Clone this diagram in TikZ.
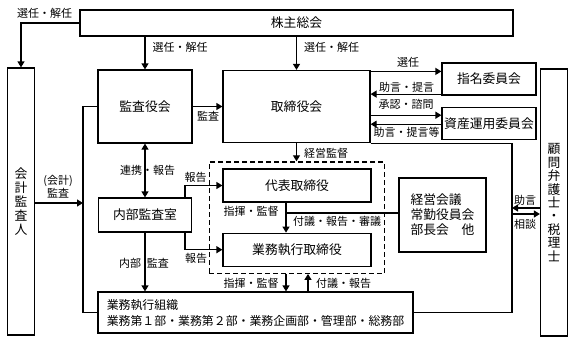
\documentclass[tikz,border=0pt]{standalone}
\usepackage{fontspec}
\setmainfont{Noto Sans CJK JP}
\usetikzlibrary{
    positioning,
    arrows.meta,
    fit
}

\begin{document}
\begin{tikzpicture}[
    x=1pt, y=-1pt,
    font=\fontsize{12.8}{14}\selectfont,
    box/.style={
        rectangle, draw=black, line width=1.2pt,
        align=center, inner sep=2pt
    },
    vbox/.style={
        box, minimum width=27pt, minimum height=267pt,
        font=\fontsize{12.8}{14}\selectfont
    },
    lbl/.style={
        rectangle, draw=none, fill=none, align=center, inner sep=0pt,
        font=\fontsize{11}{13}\selectfont
    },
    groupbox/.style={
        rectangle, draw=black, line width=1.2pt, dash pattern=on 5pt off 3pt,
        inner xsep=13pt, inner ysep=6.5pt
    },
    conn/.style={line width=1.2pt},
    arr/.style={-{Triangle[length=6pt,width=7pt]}, line width=1.2pt},
    dblarr/.style={{Triangle[length=6pt,width=7pt]}-{Triangle[length=6pt,width=7pt]}, line width=1.2pt}
]
\useasboundingbox (0,0) rectangle (575,343);

% Shareholders
\node[box, minimum width=433pt, minimum height=26pt] (kabunushi) at (296.5,23) {株主総会};

% Tall boxes at the sides
\node[vbox] (kaikei) at (21,201.5) {会\\計\\監\\査\\人};
\node[vbox, font=\fontsize{12.8}{13.4}\selectfont] (komon) at (554,202.5)
    {顧\\問\\弁\\護\\士\\・\\税\\理\\士};

% Boards
\node[box, minimum width=94pt, minimum height=73pt] (kansayaku) at (145,106.5) {監査役会};
\node[box, minimum width=147pt, minimum height=72pt] (torishimari) at (296.5,106.5) {取締役会};

% Committees
\node[box, minimum width=94pt, minimum height=32pt] (shimei) at (489,79) {指名委員会};
\node[box, minimum width=94pt, minimum height=32pt, below=11pt of shimei] (shisan) {資産運用委員会};

% Internal audit
\node[box, minimum width=93pt, minimum height=34pt] (naibu) at (145,215) {内部監査室};

% Executives
\node[box, minimum width=148pt, minimum height=33pt] (daihyo) at (297,185.5) {代表取締役};
\node[box, minimum width=148pt, minimum height=33pt, below=30pt of daihyo] (gyomu) {業務執行取締役};
\node[groupbox, fit=(daihyo)(gyomu)] (exec_box) {};

% Meetings
\node[box, minimum width=87pt, minimum height=74pt, align=left,
      font=\fontsize{12.8}{15}\selectfont] (keiei) at (442.5,215)
    {経営会議\\常勤役員会\\部長会　他};

% Operating organisation
\node[box, minimum width=315pt, minimum height=41pt, align=left,
      font=\fontsize{11.9}{16}\selectfont] (soshiki) at (255.5,312.5)
    {業務執行組織\\業務第１部・業務第２部・業務企画部・管理部・総務部};

% Helper points
\coordinate (bus_l) at (83,312.5);
\coordinate (bus_r) at (512,312.5);
\coordinate (shiki) at ([xshift=-11pt]daihyo.south);
\coordinate (fugi) at ([xshift=11pt]gyomu.south);

% Arrows from the top
\draw[arr] (kabunushi.west) -| (kaikei.north);
\draw[arr] (kabunushi.south -| kansayaku) -- (kansayaku.north);
\draw[arr] (kabunushi.south -| torishimari) -- (torishimari.north);
\draw[arr] (kansayaku.east) -- (torishimari.west);

% Committees
\draw[arr] ([yshift=-1.5pt]torishimari.north east) -- ([yshift=-1.5pt]torishimari.north east -| shimei.west);
\draw[arr] ([yshift=1.5pt]shimei.south west) -- ([yshift=1.5pt]shimei.south west -| torishimari.east);
\draw[arr] ([yshift=8pt]shisan.west -| torishimari.east) -- ([yshift=8pt]shisan.west);
\draw[arr] ([yshift=-1pt]shisan.west) -- ([yshift=-1pt]shisan.west -| torishimari.east);

% Buses
\draw[conn] (torishimari.south east) -| (bus_r) -- (soshiki.east);
\draw[arr] ([yshift=-5.5pt]komon.west) -- ([yshift=-5.5pt]komon.west -| bus_r);
\draw[arr] ([yshift=-11.5pt]komon.west -| bus_r) -- ([yshift=-11.5pt]komon.west);
\draw[conn] (kansayaku.west) -| (bus_l) -- (soshiki.west);
\draw[arr] ([yshift=-1.5pt]kaikei.east) -- ([yshift=-1.5pt]kaikei.east -| bus_l);

% Internal audit
\draw[dblarr] (kansayaku.south) -- (naibu.north);
\draw[arr] (naibu.south) -- (naibu.south |- soshiki.north);
\draw[arr] ([xshift=40pt]naibu.north) |- (daihyo.west);
\draw[arr] ([xshift=40pt]naibu.south) |- (gyomu.west);

% Executives
\draw[arr] (torishimari.south) -- (torishimari.south |- exec_box.north);
\draw[arr] (shiki) -- (shiki |- gyomu.north);
\draw[conn] ([yshift=2pt]keiei.west) -- ([yshift=2pt]keiei.west -| shiki);
\draw[arr] (shiki |- exec_box.south) -- (shiki |- soshiki.north);
\draw[arr] (fugi |- soshiki.north) -- (fugi |- exec_box.south);

% Labels
\node[lbl] (l_kaikei_sennin) at (44.5,13) {選任・解任};
\node[lbl] (l_kansa_sennin) at (180,47) {選任・解任};
\node[lbl] (l_tori_sennin) at (331.5,47) {選任・解任};
\node[lbl] (l_kansa) at (208,116) {監査};
\node[lbl] (l_sennin) at (408,62) {選任};
\node[lbl] (l_jogen1) at (406.5,87) {助言・提言};
\node[lbl] (l_shonin) at (406,104) {承認・諮問};
\node[lbl] (l_jogen2) at (406.5,132) {助言・提言等};
\node[lbl] (l_renkei) at (147.5,170) {連携・報告};
\node[lbl] (l_kaikei_kansa) at (58,186.5) {(会計)\\監査};
\node[lbl] (l_hokoku1) at (195.5,177) {報告};
\node[lbl] (l_hokoku2) at (196,258) {報告};
\node[lbl] (l_naibu) at (144,263) {内部\hspace{6pt}監査};
\node[lbl] (l_keiei) at (326,153) {経営監督};
\node[lbl] (l_shiki1) at (251,211) {指揮・監督};
\node[lbl] (l_fugi1) at (337,221) {付議・報告・審議};
\node[lbl] (l_shiki2) at (251,283) {指揮・監督};
\node[lbl] (l_fugi2) at (343.5,283) {付議・報告};
\node[lbl] (l_jogen3) at (525,200) {助言};
\node[lbl] (l_sodan) at (525,224) {相談};

\end{tikzpicture}
\end{document}
